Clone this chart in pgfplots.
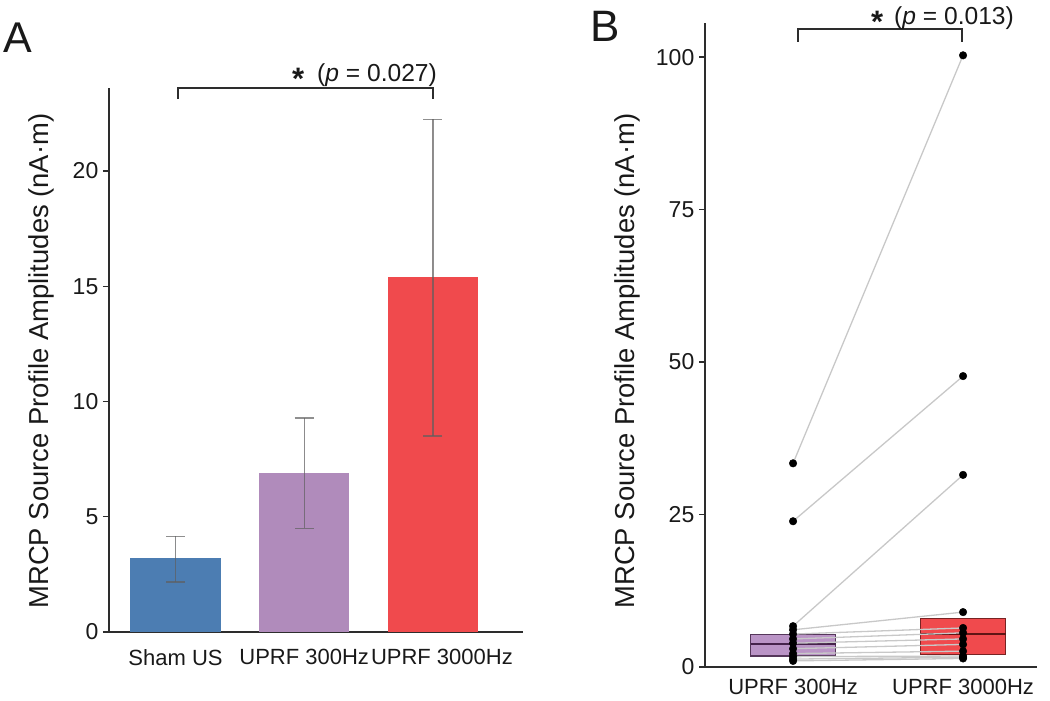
\documentclass[border=0pt]{standalone}
\usepackage{fontspec}
\setmainfont{Liberation Sans}
\usepackage{pgfplots}
\pgfplotsset{compat=1.18}

\definecolor{shamblue}{RGB}{76,125,178}
\definecolor{upurple}{RGB}{176,139,187}
\definecolor{ured}{RGB}{240,74,77}
\definecolor{axgray}{RGB}{45,45,45}
\definecolor{txt}{RGB}{25,25,25}
\definecolor{errgray}{RGB}{95,95,95}
\definecolor{linegray}{RGB}{200,200,200}
\definecolor{bpurple}{RGB}{186,148,198}
\definecolor{bpurpleedge}{RGB}{85,55,90}
\definecolor{bpurplemed}{RGB}{70,35,75}
\definecolor{redge}{RGB}{120,35,35}
\definecolor{rmed}{RGB}{95,20,20}

\pgfplotsset{
  panel/.style={
    scale only axis,
    axis lines=left,
    axis line style={-, line width=1.4pt, draw=axgray},
    tick align=outside,
    major tick length=6pt,
    ytick style={line width=1.4pt, draw=axgray},
    x tick style={draw=none},
    /pgf/number format/assume math mode=true,
    yticklabel style={font=\fontsize{23}{26}\selectfont, text=txt, inner sep=4.5pt},
    xticklabel style={font=\fontsize{22}{26}\selectfont, text=txt},
    ylabel={MRCP Source Profile Amplitudes (nA·m)},
    ylabel style={font=\fontsize{27.4}{30}\selectfont, text=txt, anchor=center},
    clip=false,
  },
  errstyle/.style={error bars/.cd, y dir=both, y explicit,
    error bar style={line width=1.2pt, draw=errgray, opacity=0.7},
    error mark options={rotate=90, line width=1.2pt, mark size=9.5pt, draw=errgray, opacity=0.7}},
}

\begin{document}
\begin{tikzpicture}
\useasboundingbox (0,0) rectangle (1050pt,701pt);

% ---------------- Panel A ----------------
\begin{axis}[panel,
  at={(109pt,69pt)}, anchor=south west,
  width=414pt, height=544pt,
  xmin=-0.517, xmax=2.70, ymin=0, ymax=23.6,
  ytick={0,5,10,15,20},
  xtick={0,1,2},
  xticklabels={Sham US, UPRF 300Hz, \hspace{18pt}UPRF 3000Hz},
  xticklabel style={yshift=-8pt},
  ylabel style={at={(axis description cs:-0.164,0.498)}},
]
\addplot[ybar, bar width=0.7, bar shift=0pt, fill=shamblue, draw=none, errstyle]
  coordinates {(0,3.2) += (0,0.95) -= (0,1.03)};
\addplot[ybar, bar width=0.7, bar shift=0pt, fill=upurple, draw=none, errstyle]
  coordinates {(1,6.9) += (0,2.38) -= (0,2.40)};
\addplot[ybar, bar width=0.7, bar shift=0pt, fill=ured, draw=none, errstyle]
  coordinates {(2,15.4) += (0,6.85) -= (0,6.90)};
\draw[line width=1.4pt, axgray] (axis cs:0.02,23.12) -- (axis cs:0.02,23.6) -- (axis cs:2.0,23.6) -- (axis cs:2.0,23.12);
\end{axis}

% ---------------- Panel B ----------------
\begin{axis}[panel,
  at={(705pt,34pt)}, anchor=south west,
  width=332pt, height=644pt,
  xmin=-0.518, xmax=1.435, ymin=0, ymax=105.6,
  ytick={0,25,50,75,100},
  xtick={0,1},
  xticklabels={UPRF 300Hz, UPRF 3000Hz},
  xticklabel style={yshift=-3pt},
  ylabel style={at={(axis description cs:-0.235,0.475)}},
]
% boxes (quartiles) and medians
\addplot[fill=bpurple, draw=bpurpleedge, line width=1.1pt, mark=none]
  coordinates {(-0.25,1.8) (0.25,1.8) (0.25,5.4) (-0.25,5.4)} -- cycle;
\addplot[bpurplemed, line width=1.8pt, mark=none] coordinates {(-0.25,3.8) (0.25,3.8)};
\addplot[fill=ured, draw=redge, line width=1.1pt, mark=none]
  coordinates {(0.75,2.0) (1.25,2.0) (1.25,7.9) (0.75,7.9)} -- cycle;
\addplot[rmed, line width=1.8pt, mark=none] coordinates {(0.75,5.4) (1.25,5.4)};
% paired lines
\addplot[linegray, line width=1.3pt, mark=none] coordinates {(0,33.4) (1,100.3)};
\addplot[linegray, line width=1.3pt, mark=none] coordinates {(0,23.9) (1,47.7)};
\addplot[linegray, line width=1.3pt, mark=none] coordinates {(0,6.7) (1,31.5)};
\addplot[linegray, line width=1.3pt, mark=none] coordinates {(0,6.1) (1,9.0)};
\addplot[linegray, line width=1.3pt, mark=none] coordinates {(0,5.4) (1,6.4)};
\addplot[linegray, line width=1.3pt, mark=none] coordinates {(0,4.6) (1,5.6)};
\addplot[linegray, line width=1.3pt, mark=none] coordinates {(0,3.9) (1,4.6)};
\addplot[linegray, line width=1.3pt, mark=none] coordinates {(0,3.0) (1,3.7)};
\addplot[linegray, line width=1.3pt, mark=none] coordinates {(0,2.2) (1,2.6)};
\addplot[linegray, line width=1.3pt, mark=none] coordinates {(0,1.7) (1,1.8)};
\addplot[linegray, line width=1.3pt, mark=none] coordinates {(0,1.3) (1,1.6)};
\addplot[linegray, line width=1.3pt, mark=none] coordinates {(0,1.0) (1,1.4)};
% points
\addplot[only marks, mark=*, mark size=3.8pt, black] coordinates {
  (0,33.4) (0,23.9) (0,6.7) (0,6.1) (0,5.4) (0,4.6) (0,3.9) (0,3.0) (0,2.2) (0,1.7) (0,1.3) (0,1.0)
  (1,100.3) (1,47.7) (1,31.5) (1,9.0) (1,6.4) (1,5.6) (1,4.6) (1,3.7) (1,2.6) (1,1.8) (1,1.6) (1,1.4)};
\draw[line width=1.4pt, axgray] (axis cs:0.03,102.5) -- (axis cs:0.03,104.6) -- (axis cs:0.994,104.6) -- (axis cs:0.994,102.5);
\end{axis}

% panel letters and significance texts
\node[anchor=base west, inner sep=0pt, font=\fontsize{43}{46}\selectfont, text=txt] at (3pt,648pt) {A};
\node[anchor=base west, inner sep=0pt, font=\fontsize{44}{46}\selectfont, text=txt] at (590pt,659pt) {B};
\node[anchor=base west, inner sep=0pt, font=\fontsize{31}{33}\selectfont\bfseries, text=txt] at (292pt,611pt) {*};
\node[anchor=base west, inner sep=0pt, font=\fontsize{24.6}{28}\selectfont, text=txt] at (317pt,619pt) {(\textit{p} = 0.027)};
\node[anchor=base west, inner sep=0pt, font=\fontsize{31}{33}\selectfont\bfseries, text=txt] at (871pt,668pt) {*};
\node[anchor=base west, inner sep=0pt, font=\fontsize{24.6}{28}\selectfont, text=txt] at (894pt,676pt) {(\textit{p} = 0.013)};
\end{tikzpicture}
\end{document}
